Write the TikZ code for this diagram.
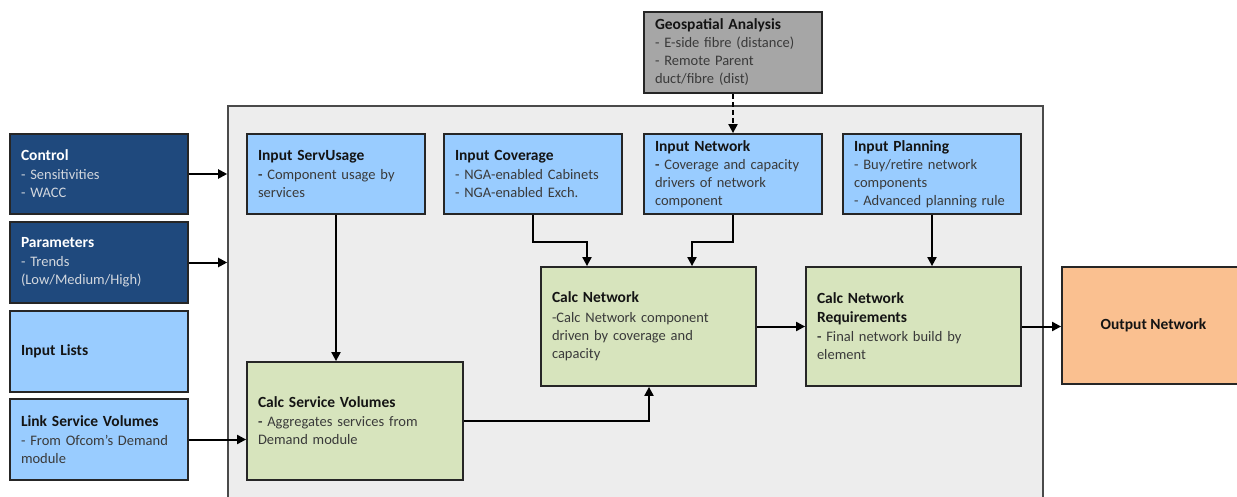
\documentclass[tikz,border=0pt]{standalone}
\usepackage{fontspec}
\setmainfont{Carlito}
\usetikzlibrary{arrows.meta}
\definecolor{dkblue}{HTML}{1F497D}
\definecolor{ltblue}{HTML}{99CCFF}
\definecolor{ltgreen}{HTML}{D7E4BD}
\definecolor{orng}{HTML}{FAC090}
\definecolor{geogray}{HTML}{A6A6A6}
\definecolor{contfill}{HTML}{EDEDED}
\definecolor{contbord}{HTML}{4A4A4A}
\definecolor{bord}{HTML}{262626}
\definecolor{bodytxt}{HTML}{3A3A3A}
\definecolor{titletxt}{HTML}{141414}
\definecolor{lighttxt}{HTML}{D2D7DE}
\newcommand{\ttl}[1]{{\bfseries\fontsize{15.5}{18}\selectfont\color{titletxt}#1}}
\newcommand{\wttl}[1]{{\bfseries\fontsize{15.5}{18}\selectfont\color{white}#1}}
\tikzset{
  box/.style={draw=bord, line width=1.8pt, inner xsep=11pt, inner ysep=0pt, align=left,
    font=\fontsize{14.5}{18}\selectfont, text=bodytxt},
  sbox/.style={box, minimum width=178pt, minimum height=80pt, text width=156pt},
  bbox/.style={box, minimum width=215pt, minimum height=119pt, text width=193pt},
  dkbox/.style={sbox, fill=dkblue, text=lighttxt},
  ltbox/.style={sbox, fill=ltblue},
  grbox/.style={bbox, fill=ltgreen},
  arr/.style={draw=black, line width=2pt, -{Triangle[length=9pt,width=9pt]}},
  darr/.style={arr, dash pattern=on 5pt off 3pt}
}
\begin{document}
\begin{tikzpicture}[x=1pt,y=-1pt]
\clip (0,0) rectangle (1237,497);
\fill[white] (0,0) rectangle (1237,497);
% container
\node[draw=contbord, fill=contfill, line width=1.6pt, minimum width=815pt, minimum height=408pt, inner sep=0pt] (cont) at (635.5,310) {};
% left column
\node[dkbox] (ctrl) at (99,174) {\wttl{Control}\\[1pt]- Sensitivities\\- WACC};
\node[dkbox, minimum height=81pt] (params) at (99,262.5) {\wttl{Parameters}\\[1pt]- Trends\\(Low/Medium/High)};
\node[ltbox, minimum height=81pt] (inlists) at (99,351.5) {\ttl{Input Lists}};
\node[ltbox, minimum height=81pt] (link) at (99,439.5) {\ttl{Link Service Volumes}\\[1pt]- From Ofcom’s Demand\\module};
% geospatial
\node[sbox, fill=geogray, minimum height=81pt] (geo) at (733,52.5) {\ttl{Geospatial Analysis}\\- E-side fibre (distance)\\- Remote Parent\\duct/fibre (dist)};
% input row
\node[ltbox] (serv) at (336,174) {\ttl{Input ServUsage}\\[1pt]\textbf{-} Component usage by\\services};
\node[ltbox] (cov) at (533,174) {\ttl{Input Coverage}\\[1pt]- NGA-enabled Cabinets\\- NGA-enabled Exch.};
\node[ltbox] (net) at (733,174) {\ttl{Input Network}\\\textbf{-} Coverage and capacity\\drivers of network\\component};
\node[ltbox] (plan) at (932,174) {\ttl{Input Planning}\\- Buy/retire network\\components\\- Advanced planning rule};
% calc boxes
\node[grbox] (calcnet) at (648.5,326.5) {\ttl{Calc Network}\\[2pt]-Calc Network component\\driven by coverage and\\capacity};
\node[grbox] (calcreq) at (913.5,326.5) {\ttl{Calc Network}\\[1pt]\ttl{Requirements}\\[1pt]\textbf{-} Final network build by\\element};
\node[box, fill=ltgreen, minimum width=216pt, minimum height=118pt, text width=194pt] (calcsv) at (355,421) {\ttl{Calc Service Volumes}\\[1pt]\textbf{-} Aggregates services from\\Demand module};
% output
\node[draw=bord, line width=1.8pt, fill=orng, minimum width=183pt, minimum height=117pt, inner sep=0pt, font=\bfseries\fontsize{15.5}{18}\selectfont, text=titletxt] (out) at (1153.5,325.5) {Output Network};
% connectors
\draw[arr] (ctrl.east) -- (ctrl.east -| cont.west);
\draw[arr] (params.east) -- (params.east -| cont.west);
\draw[arr] (link.east) -- (link.east -| calcsv.west);
\draw[arr] (serv.south) -- (serv.south |- calcsv.north);
\draw[arr] (cov.south) -- ++(0,27) -| ([xshift=-61.5pt]calcnet.north);
\draw[arr] (net.south) -- ++(0,27) -| ([xshift=43.5pt]calcnet.north);
\draw[arr] (plan.south) -- (plan.south |- calcreq.north);
\draw[arr] (calcsv.east) -| ([xshift=0.5pt]calcnet.south);
\draw[arr] (calcnet.east) -- (calcreq.west);
\draw[arr] (calcreq.east) -- (calcreq.east -| out.west);
\draw[darr] (geo.south) -- (net.north);
\end{tikzpicture}
\end{document}
